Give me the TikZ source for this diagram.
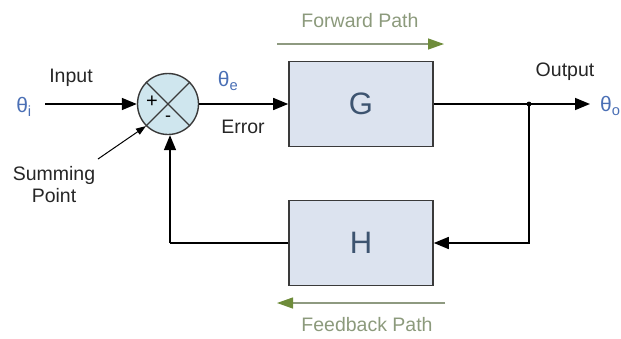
\documentclass[tikz,border=0pt]{standalone}
\usepackage{fontspec}
\setmainfont{Liberation Sans}
\usetikzlibrary{arrows.meta}
\definecolor{boxfill}{HTML}{DCE3EF}
\definecolor{sumfill}{HTML}{CFE6EE}
\definecolor{edgegray}{HTML}{3A3A3A}
\definecolor{thetablue}{HTML}{4A6FB5}
\definecolor{blocktext}{HTML}{3D5470}
\definecolor{pathtext}{HTML}{8C9A7C}
\definecolor{pathline}{HTML}{8E9A80}
\definecolor{pathhead}{HTML}{6E8C3A}
\tikzset{
  sig/.style={line width=1.6pt, draw=black},
  sigarrow/.style={sig, -{Triangle[length=15pt,width=12pt]}},
  block/.style={draw=edgegray, line width=1.6pt, fill=boxfill, minimum width=144pt,
    minimum height=85pt, inner sep=0pt, font=\fontsize{31}{31}\selectfont, text=blocktext},
  label/.style={font=\fontsize{19.5}{22}\selectfont, text=black!85, inner sep=0pt},
  theta/.style={font=\fontsize{21}{21}\selectfont, text=thetablue, inner sep=0pt},
  pathlabel/.style={font=\fontsize{19.5}{22}\selectfont, text=pathtext, inner sep=0pt},
  patharrow/.style={draw=pathline, line width=1.3pt, -{Triangle[length=16pt,width=11pt,color=pathhead]}}
}
\begin{document}
\begin{tikzpicture}[x=1pt,y=-1pt]
\useasboundingbox (0,0) rectangle (621,338);

% summing junction
\node[circle, draw=edgegray, line width=1.4pt, fill=sumfill, minimum size=61pt, inner sep=0pt] (sum) at (168,104) {};
\draw[edgegray, line width=1.1pt] (sum.45) -- (sum.225) (sum.135) -- (sum.315);
\node[font=\fontsize{20}{20}\selectfont, inner sep=0pt] (plus) at (152,102) {+};
\node[font=\fontsize{18}{18}\selectfont, inner sep=0pt] (minus) at (168,119) {-};

% blocks
\node[block] (G) at (361,104) {G};
\node[block] (H) at (361,243) {H};

% points on the signal lines
\coordinate (in) at (45,104);
\node[theta] (thi) at (24,107) {θ\textsubscript{i}};
\coordinate (split) at (529,104);
\coordinate (out) at (590,104);
\coordinate (fbr) at (529,243);
\coordinate (fbl) at (170,243);

% signals
\draw[sigarrow] (in) -- (sum.west);
\draw[sigarrow] (sum.east) -- (G.west);
\draw[sig] (G.east) -- (split);
\draw[sigarrow] (split) -- (out);
\fill (split) circle (2.4pt);
\draw[sigarrow] (split) -- (fbr) -- (H.east);
\draw[sig] (H.west) -- (fbl);
\draw[sigarrow] (fbl) -- (sum.south -| fbl);

% labels
\node[label] (input) at (71,78) {Input};
\node[theta] (the) at (228,81) {θ\textsubscript{e}};
\node[label] (error) at (243,127) {Error};
\node[label] (output) at (565,72) {Output};
\node[theta, anchor=west] (tho) at (600,106) {θ\textsubscript{o}};
\node[label, align=center] (spt) at (54,185) {Summing\\Point};
\coordinate (sptail) at (98,159);
\draw[line width=1pt, -{Triangle[length=10pt,width=7pt]}] (sptail) -- (sum.225);

% forward / feedback path indicators
\coordinate (fwa) at (277,44);
\coordinate (fwb) at (444,44);
\draw[patharrow] (fwa) -- (fwb);
\node[pathlabel] (fwd) at (360,21) {Forward Path};
\coordinate (fba) at (445,303);
\coordinate (fbb) at (277,303);
\draw[patharrow] (fba) -- (fbb);
\node[pathlabel] (fbk) at (367,325) {Feedback Path};
\end{tikzpicture}
\end{document}
